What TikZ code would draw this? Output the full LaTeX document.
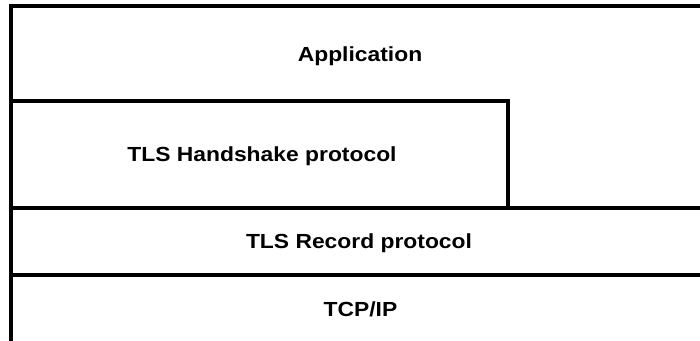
\documentclass[tikz,border=0pt]{standalone}
\usepackage{fontspec}
\setmainfont{Liberation Sans}[FakeStretch=1.12]
\tikzset{
  layerline/.style={line width=4pt, draw=black, line join=miter},
  layerlabel/.style={anchor=base, inner sep=0pt, font=\bfseries\fontsize{20.4pt}{23pt}\selectfont}
}
\begin{document}
\begin{tikzpicture}[x=1pt, y=-1pt]
\useasboundingbox (0,0) rectangle (700,340);
% outer frame (top and left)
\draw[layerline] (710,6.2) -- (11.2,6.2) -- (11.2,350);
% handshake box
\draw[layerline] (11.2,100.5) -- (508,100.5) -- (508,207.5);
% record layer
\draw[layerline] (11.2,207.5) -- (710,207.5);
% tcp/ip layer
\draw[layerline] (11.2,275) -- (710,275);
% labels
\node[layerlabel] (app) at (360,61.5) {Application};
\node[layerlabel] (hs) at (262,161.5) {TLS Handshake protocol};
\node[layerlabel] (rec) at (359,248.3) {TLS Record protocol};
\node[layerlabel] (tcp) at (360.5,316) {TCP/IP};
\end{tikzpicture}
\end{document}
